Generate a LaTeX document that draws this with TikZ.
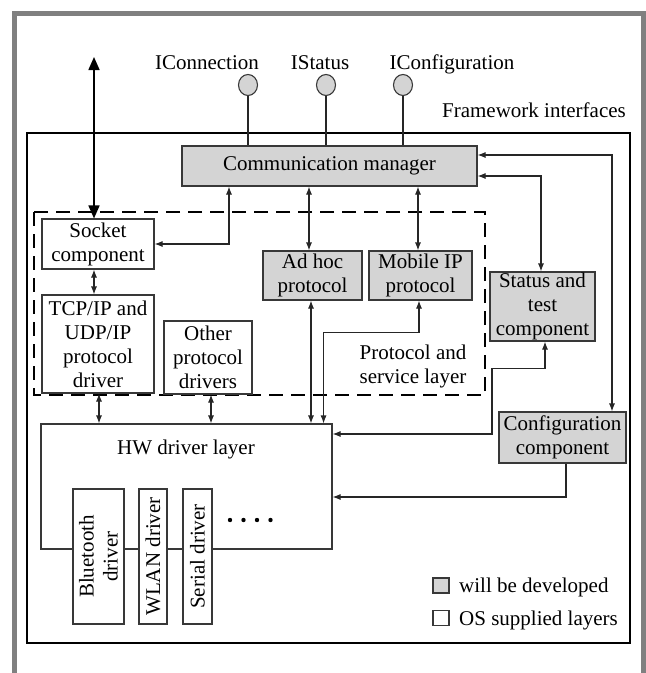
\documentclass[tikz,border=0pt]{standalone}
\usepackage{fontspec}
\setmainfont{Liberation Serif}
\usetikzlibrary{arrows.meta,shapes.geometric}
\definecolor{devfill}{gray}{0.83}
\definecolor{edge}{gray}{0.22}
\definecolor{outerframe}{gray}{0.5}
\begin{document}
\begin{tikzpicture}[x=1pt,y=-1pt,
  font=\fontsize{21}{24}\selectfont,
  box/.style={draw=edge, line width=1.1pt, fill=white, align=center, inner sep=0pt},
  dev/.style={box, fill=devfill},
  lolli/.style={ellipse, draw=edge, line width=1.1pt, fill=devfill, minimum width=19pt, minimum height=21pt, inner sep=0pt},
  con/.style={draw=black!85, line width=1.1pt},
  >={Latex[length=8pt,width=6pt]},
  bigtip/.style={line width=1.6pt, {Triangle[length=13pt,width=11pt]}-{Triangle[length=13pt,width=11pt]}},
  lbl/.style={inner sep=0pt, anchor=base}
]
\useasboundingbox[fill=white] (0,0) rectangle (646,673);

% open grey outer frame
\draw[outerframe, line width=5pt] (14.5,673) -- (14.5,13) -- (643,13) -- (643,673);

% framework boundary
\draw[line width=2.5pt] (27,133) rectangle (630,643);
\node[lbl, anchor=base east] (fwlabel) at (626,117) {Framework interfaces};

% protocol and service layer
\draw[line width=2.8pt, dash pattern=on 14pt off 8pt] (34,212) rectangle (485,395);
\node[align=center, inner sep=0pt] (pslabel) at (413,366) {Protocol and\\service layer};

% interface labels and lollipops
\node[lbl] (lconn) at (207,69) {IConnection};
\node[lbl] (lstat) at (320,69) {IStatus};
\node[lbl] (lconf) at (452,69) {IConfiguration};
\node[lolli] (iconn) at (248,85) {};
\node[lolli] (istat) at (326,85) {};
\node[lolli] (iconf) at (403,85) {};

% components
\node[dev, minimum width=295pt, minimum height=40pt] (comm) at (329.5,166) {Communication manager};
\node[box, minimum width=112pt, minimum height=50pt] (socket) at (98,244) {Socket\\component};
\node[box, minimum width=112pt, minimum height=98pt] (tcp) at (98,344) {TCP/IP and\\UDP/IP\\protocol\\driver};
\node[box, minimum width=88pt, minimum height=73pt] (other) at (208,357.5) {Other\\protocol\\drivers};
\node[dev, minimum width=99pt, minimum height=49pt] (adhoc) at (312.5,275.5) {Ad hoc\\protocol};
\node[dev, minimum width=103pt, minimum height=49pt] (mobile) at (420.5,275.5) {Mobile IP\\protocol};
\node[dev, minimum width=105pt, minimum height=69pt] (status) at (542.5,306.5) {Status and\\test\\component};
\node[dev, minimum width=127pt, minimum height=51pt] (config) at (562.5,437.5) {Configuration\\component};

% hardware driver layer
\node[box, minimum width=291pt, minimum height=125pt] (hw) at (186.5,486.5) {};
\node[inner sep=0pt] (hwlabel) at (186,449) {HW driver layer};
\node[box, minimum width=51pt, minimum height=135pt] (bt) at (98.5,556.5) {};
\node[rotate=90, align=center, inner sep=0pt] (btlabel) at (bt.center) {Bluetooth\\driver};
\node[box, minimum width=28pt, minimum height=135pt] (wlan) at (153,556.5) {};
\node[rotate=90, inner sep=0pt] (wlanlabel) at (wlan.center) {WLAN driver};
\node[box, minimum width=29pt, minimum height=135pt] (serial) at (197.5,556.5) {};
\node[rotate=90, inner sep=0pt] (seriallabel) at (serial.center) {Serial driver};
\foreach \dx in {0,13.5,27,40.5} \fill ({230+\dx},520) circle (2.2pt);

% legend
\node[dev, minimum width=16pt, minimum height=15pt] (legdev) at (441,585.5) {};
\node[lbl, anchor=base west] (legdevtxt) at (459,592) {will be developed};
\node[box, minimum width=16pt, minimum height=15pt] (legos) at (441,618) {};
\node[lbl, anchor=base west] (legostxt) at (459,625) {OS supplied layers};

% interface stems
\draw[con] (iconn) -- (iconn |- comm.north);
\draw[con] (istat) -- (istat |- comm.north);
\draw[con] (iconf) -- (iconf |- comm.north);

% endpoints
\coordinate (ext) at (94,57);
\coordinate (sockin) at ([xshift=-4pt]socket.north);
\coordinate (c1) at ([xshift=-100.5pt]comm.south);
\coordinate (c2) at ([xshift=-20.5pt]comm.south);
\coordinate (c3) at ([xshift=88.5pt]comm.south);
\coordinate (ce1) at ([yshift=11pt]comm.east);
\coordinate (ce2) at ([yshift=-10pt]comm.east);
\coordinate (a1) at ([xshift=-1.5pt]adhoc.south);
\coordinate (m1) at ([xshift=-1.5pt]mobile.south);
\coordinate (t1) at ([xshift=1pt]tcp.south);
\coordinate (o1) at ([xshift=3pt]other.south);
\coordinate (s1) at ([xshift=2.5pt]status.south);
\coordinate (g1) at ([xshift=3.5pt]config.south);
\coordinate (h1) at ([yshift=52.5pt]hw.east);
\coordinate (h2) at ([yshift=-10.5pt]hw.east);

% connectors
\draw[bigtip] (ext) -- (sockin);
\draw[con,<->] (c1) |- (socket.east);
\draw[con,<->] ([xshift=-4pt]socket.south) -- ([xshift=-4pt]tcp.north);
\draw[con,<->] (c2) -- (c2 |- adhoc.north);
\draw[con,<->] (c3) -- (c3 |- mobile.north);
\draw[con,<->] (a1) -- (a1 |- hw.north);
\draw[con,<->] (m1) -- ++(0,32) -| ([xshift=-9pt]hw.north east);
\draw[con,<->] (t1) -- (t1 |- hw.north);
\draw[con,<->] (o1) -- (o1 |- hw.north);
\draw[con,<->] (ce2) -| ([xshift=-1.5pt]status.north);
\draw[con,<->] (ce1) -| ([xshift=49.5pt]config.north);
\draw[con,<->] (s1) -- ++(0,27) -- ++(-53,0) |- (h1);
\draw[con,->] (g1) |- (h2);
\end{tikzpicture}
\end{document}
